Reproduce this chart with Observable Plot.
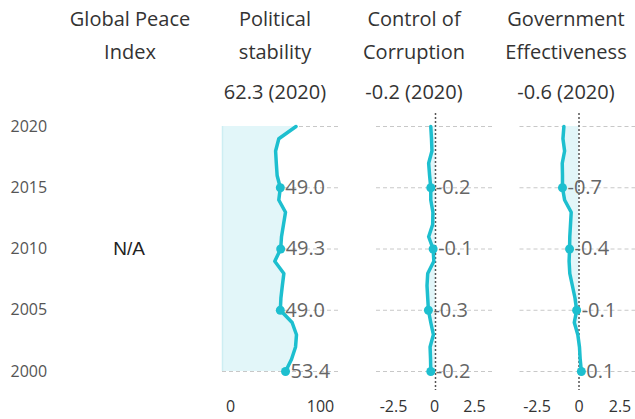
<!DOCTYPE html>
<html><head><meta charset="utf-8">
<script src="https://cdn.jsdelivr.net/npm/d3@7"></script>
<script src="https://cdn.jsdelivr.net/npm/@observablehq/plot@0.6"></script>
<style>
body{margin:0;background:#fff;}
#wrap{position:relative;width:635px;height:419px;overflow:hidden;font-family:"Open Sans",sans-serif;}
#wrap svg{position:absolute;left:0;top:0;background:transparent !important;}
.hdr{position:absolute;top:2px;width:180px;text-align:center;color:#333;font-size:20px;line-height:33px;white-space:nowrap;}
.hdr .v{display:block;margin-top:7px;}
</style></head><body><div id="wrap"></div>
<script>
// ---- data ----
const years = [2000,2001,2002,2003,2004,2005,2006,2007,2008,2009,2010,2011,2012,2013,2014,2015,2016,2017,2018,2019,2020];
const politicalStability = [53.4,58.5,61.9,62.7,59.0,49.0,49.5,50.7,52.0,44.3,49.3,50.0,51.7,53.4,47.7,49.0,46.3,45.6,45.0,47.7,62.3];
const controlOfCorruption = [-0.2,-0.21,-0.23,-0.09,-0.2,-0.3,-0.33,-0.36,-0.33,-0.07,-0.1,-0.29,-0.12,-0.11,-0.2,-0.2,-0.25,-0.29,-0.15,-0.17,-0.2];
const governmentEffectiveness = [0.1,0.05,0.02,-0.05,-0.2,-0.1,-0.17,-0.28,-0.39,-0.42,-0.4,-0.39,-0.36,-0.33,-0.61,-0.7,-0.7,-0.71,-0.61,-0.68,-0.64];
const globalPeaceIndex = []; // no data -> N/A
const labelYears = [2000,2005,2010,2015];
const gridYears = [2000,2005,2010,2015,2020];
const headerNames = ["Global Peace\nIndex","Political\nstability","Control of\nCorruption","Government\nEffectiveness"];
const psTicks = [0,100];
const wgiTicks = [-2.5,0,2.5];

// ---- layout / style ----
const W = 635, H = 419;
const teal = "#1dbfcf";
const yScale = {domain:[2000,2020], range:[371,126]};
const wrap = document.getElementById("wrap");

function rows(vals){ return years.map((y,i)=>({year:y, value:vals[i]})); }
const fmt = v => v.toFixed(1);

// year axis + GPI column
const gpiName = "Global Peace Index";
wrap.appendChild(Plot.plot({
  width:W, height:H, marginLeft:0, marginRight:0, marginTop:113, marginBottom:29,
  y: {...yScale, axis:null},
  x: {type:"band", domain:[gpiName], range:[76,180], axis:null},
  style:{fontFamily:"Open Sans", background:"transparent"},
  marks:[
    Plot.text(gridYears, {y:d=>d, frameAnchor:"left", text:d=>String(d), textAnchor:"start", dx:10, fontSize:16, fill:"#555"}),
    Plot.text(globalPeaceIndex.length ? [] : ["N/A"], {x:()=>gpiName, y:()=>labelYears[2], text:d=>d, fontSize:19, fill:"#222", fontFamily:"Liberation Sans"})
  ]
}));

function panel(vals, domain, range, ticks, tickDx, zeroLine, areaStroke){
  const data = rows(vals);
  const lab = data.filter(d=>labelYears.includes(d.year));
  const marks = [
    Plot.ruleY(gridYears, {y:d=>d, x1:domain[0], x2:domain[1], stroke:"#c8c8c8", strokeWidth:1, strokeDasharray:"4,3"}),
    Plot.areaX(data, {y:"year", x1:0, x2:"value", fill:"#e2f6f9"}),
  ];
  if (areaStroke) marks.push(Plot.ruleX([0], {y1:gridYears[0], y2:gridYears[4], stroke:"#cdeef3", strokeWidth:1.5}));
  if (zeroLine) marks.push(Plot.ruleX([0], {stroke:"#555", strokeWidth:1.5, strokeDasharray:"2,2"}));
  marks.push(
    Plot.lineX(data, {x:"value", y:"year", stroke:teal, strokeWidth:3.5, strokeLinejoin:"round", strokeLinecap:"round"}),
    Plot.dot(lab, {x:"value", y:"year", r:4.5, fill:teal}),
    Plot.text(lab, {x:"value", y:"year", text:d=>fmt(d.value), textAnchor:"start", dx:5, fontSize:20, fill:"#666"})
  );
  ticks.forEach((t,i)=>{
    marks.push(Plot.axisX([t], {anchor:"bottom", tickSize:0, tickPadding:10, fontSize:16, fill:"#333", dx:tickDx[i], tickFormat:d=>String(d), label:null}));
  });
  return Plot.plot({
    width:W, height:H, marginLeft:0, marginRight:0, marginTop:113, marginBottom:29,
    y: {...yScale, axis:null},
    x: {domain, range, axis:null},
    style:{fontFamily:"Open Sans", background:"transparent", overflow:"visible"},
    marks
  });
}

wrap.appendChild(panel(politicalStability, [0,100], [222,340], psTicks, [8,-20], false, true));
wrap.appendChild(panel(controlOfCorruption, [-2.5,2.5], [376,494], wgiTicks, [17,-1,-20], true, false));
wrap.appendChild(panel(governmentEffectiveness, [-2.5,2.5], [519.5,637.5], wgiTicks, [17,0,-18], true, false));

// headers
const centers = [130, 275, 414, 566];
const latest = [null, politicalStability, controlOfCorruption, governmentEffectiveness];
headerNames.forEach((name,i)=>{
  const d = document.createElement("div");
  d.className = "hdr";
  d.style.left = (centers[i]-90)+"px";
  const lines = name.split("\n").map(s=>`<span style="display:block">${s}</span>`).join("");
  const vals = latest[i];
  const v = vals ? `<span class="v">${fmt(vals[vals.length-1])} (${years[years.length-1]})</span>` : "";
  d.innerHTML = lines + v;
  wrap.appendChild(d);
});
</script></body></html>
